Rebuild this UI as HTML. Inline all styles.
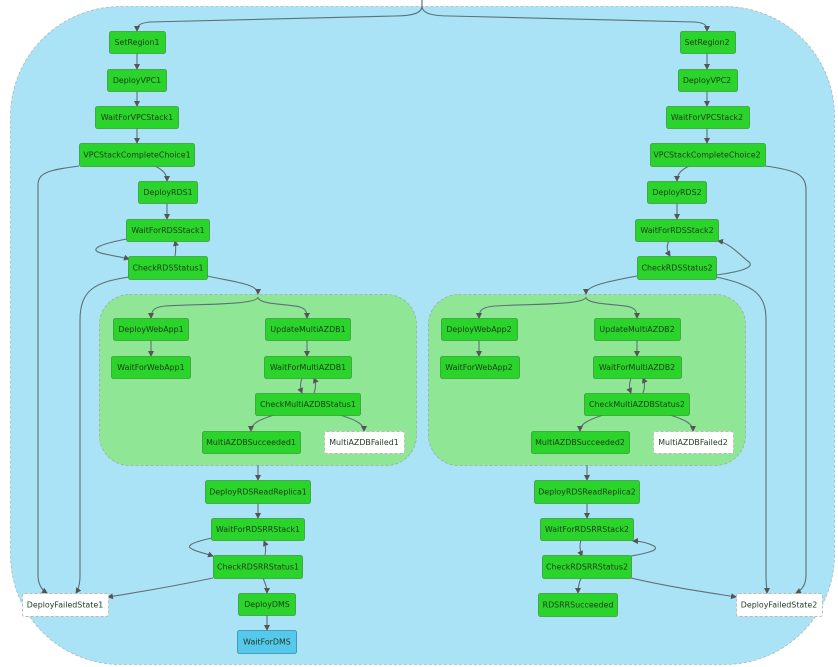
<!DOCTYPE html>
<html><head><meta charset="utf-8"><style>
html,body{margin:0;padding:0;background:#fff;width:838px;height:667px;overflow:hidden}
svg text{font-family:"DejaVu Sans","Liberation Sans",sans-serif;font-size:7.9px;text-anchor:middle;dominant-baseline:central;fill:#1d3a1d}
.n{fill:#2ad42a;stroke:#3a9a3a;stroke-width:0.8}
.w{fill:#fff;stroke:#b8b8b8;stroke-width:0.9;stroke-dasharray:3 2}
.e{fill:none;stroke:#5f6f78;stroke-width:1.1;marker-end:url(#a)}
</style></head><body>
<svg width="838" height="667" viewBox="0 0 838 667" xmlns="http://www.w3.org/2000/svg">
<defs><marker id="a" markerWidth="6" markerHeight="6" refX="5" refY="3" orient="auto" markerUnits="userSpaceOnUse"><path d="M0,0 L6,3 L0,6 z" fill="#555"/></marker></defs>
<rect x="10.5" y="6.5" width="824" height="658" rx="110" fill="#a9e3f5" stroke="#a8b8c0" stroke-width="0.8" stroke-dasharray="3 2"/>
<rect x="99.5" y="294.5" width="317" height="171" rx="30" fill="#8fe795" stroke="#9ab0a0" stroke-width="0.8" stroke-dasharray="3 2"/>
<rect x="428.5" y="294.5" width="317" height="171" rx="30" fill="#8fe795" stroke="#9ab0a0" stroke-width="0.8" stroke-dasharray="3 2"/>

<g>
<path class="e" d="M422,0 V6 C422,14 410,16 395,16 L150,22 C140,23 137,25 137,31"/>
<path class="e" d="M422,0 V6 C422,14 434,16 450,16 L695,22 C705,23 707,25 707,31"/>
<path class="e" d="M137,53 V69"/><path class="e" d="M137,91 V106"/><path class="e" d="M137,128 V143"/>
<path class="e" d="M155,166 C163,170 167,174 167,181"/><path class="e" d="M167,203 V219"/>
<path class="e" d="M79,166 C50,170 38,172 38,185 V575 C38,585 42,590 47,593"/>
<path class="e" d="M127,239 C105,243 90,248 98,252 C105,255 118,256 129,259"/>
<path class="e" d="M175,256 C176,250 176,246 175,241"/>
<path class="e" d="M129,277 C95,282 80,290 80,320 V575 C80,585 78,590 76,593"/>
<path class="e" d="M207,276 C235,282 258,284 258,294"/>
<path class="e" d="M258,297 C258,305 200,304 165,306 C155,307 151,310 151,318"/>
<path class="e" d="M258,297 C258,305 290,304 300,307 C306,309 307,312 307,318"/>
<path class="e" d="M151,340 V356"/><path class="e" d="M307,340 V356"/>
<path class="e" d="M302,378 C300,384 300,388 302,393"/><path class="e" d="M314,393 C316,388 316,383 314,378"/>
<path class="e" d="M274,415 C258,420 251,424 251,431"/><path class="e" d="M340,415 C356,420 364,424 364,431"/>
<path class="e" d="M258,465 V480"/><path class="e" d="M258,503 V518"/>
<path class="e" d="M212,538 C193,542 185,546 192,549 C197,552 204,553 213,556"/>
<path class="e" d="M265,555 C266,550 266,546 264,541"/>
<path class="e" d="M263,578 C265,583 267,587 267,593"/>
<path class="e" d="M213,578 C170,587 140,592 108,597"/>
<path class="e" d="M267,615 V630"/>

<path class="e" d="M707,53 V69"/><path class="e" d="M707,91 V106"/><path class="e" d="M707,128 V143"/>
<path class="e" d="M689,166 C681,170 677,174 677,181"/><path class="e" d="M677,203 V219"/>
<path class="e" d="M765,166 C795,170 806,174 806,190 V575 C806,585 802,590 796,593"/>
<path class="e" d="M716,275 C738,272 755,268 749,262 C742,257 730,243 718,241"/>
<path class="e" d="M669,241 C666,246 667,251 670,256"/>
<path class="e" d="M716,277 C755,285 766,295 766,320 V575 C766,585 767,590 767,593"/>
<path class="e" d="M637,276 C605,282 586,286 586,294"/>
<path class="e" d="M586,297 C586,305 530,304 495,306 C482,307 479,310 479,318"/>
<path class="e" d="M586,297 C586,305 620,304 630,307 C636,309 637,312 637,318"/>
<path class="e" d="M479,340 V356"/><path class="e" d="M637,340 V356"/>
<path class="e" d="M631,378 C629,384 629,388 631,393"/><path class="e" d="M643,393 C645,388 645,383 643,378"/>
<path class="e" d="M603,415 C588,420 580,424 580,431"/><path class="e" d="M670,415 C686,420 693,424 693,431"/>
<path class="e" d="M587,465 V480"/><path class="e" d="M587,503 V518"/>
<path class="e" d="M631,556 C648,553 660,550 654,546 C648,543 640,541 633,541"/>
<path class="e" d="M581,540 C579,546 580,551 582,556"/>
<path class="e" d="M581,578 C579,583 578,587 578,593"/>
<path class="e" d="M631,578 C670,587 705,592 736,597"/>
</g>

<g>
<rect class="n" x="109.5" y="31.5" width="56" height="22" rx="2"/><text x="137" y="42.5">SetRegion1</text>
<rect class="n" x="107.5" y="69.5" width="59" height="22" rx="2"/><text x="137" y="80.5">DeployVPC1</text>
<rect class="n" x="95.5" y="106.5" width="83" height="22" rx="2"/><text x="137" y="117.5">WaitForVPCStack1</text>
<rect class="n" x="79.5" y="143.5" width="115" height="23" rx="2"/><text x="137" y="155">VPCStackCompleteChoice1</text>
<rect class="n" x="138.5" y="181.5" width="59" height="22" rx="2"/><text x="168" y="192.5">DeployRDS1</text>
<rect class="n" x="126.5" y="219.5" width="83" height="22" rx="2"/><text x="168" y="230.5">WaitForRDSStack1</text>
<rect class="n" x="128.5" y="256.5" width="79" height="23" rx="2"/><text x="168" y="268">CheckRDSStatus1</text>
<rect class="n" x="113.5" y="318.5" width="75" height="22" rx="2"/><text x="151" y="329.5">DeployWebApp1</text>
<rect class="n" x="111.5" y="356.5" width="79" height="22" rx="2"/><text x="151" y="367.5">WaitForWebApp1</text>
<rect class="n" x="265.5" y="318.5" width="85" height="22" rx="2"/><text x="308" y="329.5">UpdateMultiAZDB1</text>
<rect class="n" x="264.5" y="356.5" width="87" height="22" rx="2"/><text x="308" y="367.5">WaitForMultiAZDB1</text>
<rect class="n" x="255.5" y="393.5" width="105" height="22" rx="2"/><text x="308" y="404.5">CheckMultiAZDBStatus1</text>
<rect class="n" x="202.5" y="431.5" width="98" height="22" rx="2"/><text x="251" y="442.5">MultiAZDBSucceeded1</text>
<rect class="w" x="324.5" y="431.5" width="80" height="22" rx="2"/><text x="364" y="442.5">MultiAZDBFailed1</text>
<rect class="n" x="205.5" y="480.5" width="105" height="23" rx="2"/><text x="258" y="492">DeployRDSReadReplica1</text>
<rect class="n" x="211.5" y="518.5" width="93" height="22" rx="2"/><text x="258" y="529.5">WaitForRDSRRStack1</text>
<rect class="n" x="213.5" y="555.5" width="89" height="23" rx="2"/><text x="258" y="567">CheckRDSRRStatus1</text>
<rect class="n" x="238.5" y="593.5" width="57" height="22" rx="2"/><text x="267" y="604.5">DeployDMS</text>
<rect x="237.5" y="630.5" width="59" height="23" rx="2" fill="#55c8ec" stroke="#3a8aaa" stroke-width="0.8"/><text x="267" y="642">WaitForDMS</text>
<rect class="w" x="22.5" y="593.5" width="86" height="23" rx="2"/><text x="65" y="605">DeployFailedState1</text>

<rect class="n" x="680.5" y="31.5" width="55" height="22" rx="2"/><text x="707" y="42.5">SetRegion2</text>
<rect class="n" x="678.5" y="69.5" width="59" height="22" rx="2"/><text x="707" y="80.5">DeployVPC2</text>
<rect class="n" x="666.5" y="106.5" width="83" height="22" rx="2"/><text x="707" y="117.5">WaitForVPCStack2</text>
<rect class="n" x="650.5" y="143.5" width="115" height="23" rx="2"/><text x="707" y="155">VPCStackCompleteChoice2</text>
<rect class="n" x="647.5" y="181.5" width="59" height="22" rx="2"/><text x="677" y="192.5">DeployRDS2</text>
<rect class="n" x="635.5" y="219.5" width="83" height="22" rx="2"/><text x="677" y="230.5">WaitForRDSStack2</text>
<rect class="n" x="637.5" y="256.5" width="79" height="23" rx="2"/><text x="677" y="268">CheckRDSStatus2</text>
<rect class="n" x="441.5" y="318.5" width="76" height="22" rx="2"/><text x="479" y="329.5">DeployWebApp2</text>
<rect class="n" x="440.5" y="356.5" width="79" height="22" rx="2"/><text x="479" y="367.5">WaitForWebApp2</text>
<rect class="n" x="594.5" y="318.5" width="86" height="22" rx="2"/><text x="637" y="329.5">UpdateMultiAZDB2</text>
<rect class="n" x="593.5" y="356.5" width="88" height="22" rx="2"/><text x="637" y="367.5">WaitForMultiAZDB2</text>
<rect class="n" x="584.5" y="393.5" width="105" height="22" rx="2"/><text x="637" y="404.5">CheckMultiAZDBStatus2</text>
<rect class="n" x="531.5" y="431.5" width="98" height="22" rx="2"/><text x="580" y="442.5">MultiAZDBSucceeded2</text>
<rect class="w" x="653.5" y="431.5" width="80" height="22" rx="2"/><text x="693" y="442.5">MultiAZDBFailed2</text>
<rect class="n" x="534.5" y="480.5" width="105" height="23" rx="2"/><text x="587" y="492">DeployRDSReadReplica2</text>
<rect class="n" x="540.5" y="518.5" width="93" height="22" rx="2"/><text x="587" y="529.5">WaitForRDSRRStack2</text>
<rect class="n" x="542.5" y="555.5" width="89" height="23" rx="2"/><text x="587" y="567">CheckRDSRRStatus2</text>
<rect class="n" x="538.5" y="593.5" width="79" height="23" rx="2"/><text x="578" y="605">RDSRRSucceeded</text>
<rect class="w" x="736.5" y="593.5" width="86" height="23" rx="2"/><text x="779" y="605">DeployFailedState2</text>
</g>
</svg>
</body></html>
